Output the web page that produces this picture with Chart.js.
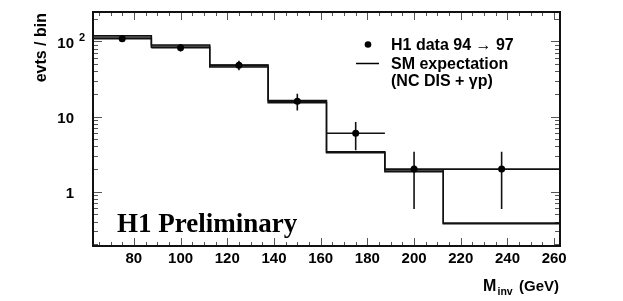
<!DOCTYPE html>
<html>
<head>
<meta charset="utf-8">
<script src="https://cdn.jsdelivr.net/npm/chart.js@4.4.0/dist/chart.umd.min.js"></script>
<style>
body { margin: 0; background: #fff; }
#wrap { width: 623px; height: 301px; }
</style>
</head>
<body>
<div id="wrap"><canvas id="myChart" width="623" height="301"></canvas></div>
<script>
// histogram bins (GeV) and values
const binEdges = [62.5, 87.5, 112.5, 137.5, 162.5, 187.5, 212.5, 262.5];
const dataX = [75, 100, 125, 150, 175, 200, 237.5];
const dataY = [108, 82, 48, 16, 6, 2, 2];
const dataYErr = [10.4, 9, 6.9, 4, 2.45, 1.41, 1.41];
const dataXErr = [12.5, 12.5, 12.5, 12.5, 12.5, 12.5, 25];
const mcUpper = [118, 89, 48.5, 16.3, 3.4, 1.96, 0.385];
const mcLower = [110, 83, 45.5, 15.2, 3.3, 1.84, 0.375];

const xMajorTicks = [80, 100, 120, 140, 160, 180, 200, 220, 240, 260];
const yMajorTicks = [1, 10, 100];
const yTickBase = ['1', '10', '10'];
const yTickExp = ['', '', '2'];

const xMin = 62.5, xMax = 262.5;
const yMin = 0.19, yMax = 245;

const SANS = '"Liberation Sans", "DejaVu Sans", sans-serif';

function stepPoints(vals) {
    const pts = vals.map((v, i) => ({ x: binEdges[i], y: v }));
    pts.push({ x: binEdges[binEdges.length - 1], y: vals[vals.length - 1] });
    return pts;
}

function errorSegments() {
    const pts = [];
    dataX.forEach((x, i) => {
        pts.push({ x: x, y: dataY[i] - dataYErr[i] }, { x: x, y: dataY[i] + dataYErr[i] }, { x: x, y: null });
        pts.push({ x: x - dataXErr[i], y: dataY[i] }, { x: x + dataXErr[i], y: dataY[i] }, { x: x, y: null });
    });
    return pts;
}

function minorX() {
    const t = [];
    for (let v = 65; v <= 260; v += 5) if (xMajorTicks.indexOf(v) < 0) t.push(v);
    return t;
}

function minorY() {
    const t = [];
    [0.1, 1, 10, 100].forEach(d => {
        for (let k = 2; k <= 9; k++) {
            const v = k * d;
            if (v > yMin && v < yMax) t.push(v);
        }
    });
    return t;
}

const framePlugin = {
    id: 'frame',
    beforeDatasetsDraw(chart) {
        const ctx = chart.ctx;
        const a = chart.chartArea;
        const xs = chart.scales.x, ys = chart.scales.y;
        ctx.save();
        ctx.strokeStyle = '#555';
        ctx.lineWidth = 1;
        ctx.beginPath();
        const xt = (v, len) => {
            const px = Math.round(xs.getPixelForValue(v)) + 0.5;
            ctx.moveTo(px, a.bottom); ctx.lineTo(px, a.bottom - len);
            ctx.moveTo(px, a.top); ctx.lineTo(px, a.top + len);
        };
        const yt = (v, len) => {
            const py = Math.round(ys.getPixelForValue(v)) + 0.5;
            ctx.moveTo(a.left, py); ctx.lineTo(a.left + len, py);
            ctx.moveTo(a.right, py); ctx.lineTo(a.right - len, py);
        };
        xMajorTicks.forEach(v => xt(v, 8));
        minorX().forEach(v => xt(v, 4));
        yMajorTicks.forEach(v => yt(v, 9));
        minorY().forEach(v => yt(v, 5));
        ctx.stroke();
        ctx.restore();
    },
    afterDraw(chart) {
        const ctx = chart.ctx;
        const a = chart.chartArea;
        const xs = chart.scales.x, ys = chart.scales.y;
        ctx.save();
        ctx.strokeStyle = '#111';
        ctx.lineWidth = 2;
        ctx.strokeRect(a.left, a.top, a.right - a.left, a.bottom - a.top);

        ctx.fillStyle = '#000';
        ctx.font = 'bold 15px ' + SANS;
        ctx.textAlign = 'center';
        ctx.textBaseline = 'alphabetic';
        xMajorTicks.forEach(v => ctx.fillText(String(v), xs.getPixelForValue(v), 263));

        yMajorTicks.forEach((v, i) => {
            const py = ys.getPixelForValue(v);
            ctx.font = 'bold 15px ' + SANS;
            ctx.textAlign = 'right';
            ctx.fillText(yTickBase[i], 74, py + 6.5);
            if (yTickExp[i]) {
                ctx.font = 'bold 11px ' + SANS;
                ctx.textAlign = 'left';
                ctx.fillText(yTickExp[i], 79, py - 0.5);
            }
        });

        // axis titles
        ctx.save();
        ctx.translate(45.5, 13);
        ctx.rotate(-Math.PI / 2);
        ctx.font = 'bold 16px ' + SANS;
        ctx.textAlign = 'right';
        ctx.fillText('evts / bin', 0, 0);
        ctx.restore();

        ctx.textAlign = 'left';
        ctx.font = 'bold 16px ' + SANS;
        ctx.fillText('M', 483, 290.5);
        ctx.font = 'bold 10.5px ' + SANS;
        ctx.fillText('inv', 497.5, 295);
        ctx.font = 'bold 15px ' + SANS;
        ctx.fillText('(GeV)', 519, 290.5);

        // legend
        ctx.beginPath();
        ctx.arc(368, 44.5, 3.3, 0, Math.PI * 2);
        ctx.fill();
        ctx.strokeStyle = '#000';
        ctx.lineWidth = 1.5;
        ctx.beginPath();
        ctx.moveTo(356, 63.5); ctx.lineTo(379, 63.5);
        ctx.stroke();
        ctx.font = 'bold 16px ' + SANS;
        ctx.fillText('H1 data 94 \u2192 97', 391, 50);
        ctx.fillText('SM expectation', 391, 68.5);
        ctx.fillText('(NC DIS + \u03b3p)', 391, 86);

        ctx.font = 'bold 27px "Liberation Serif", "DejaVu Serif", serif';
        ctx.fillText('H1 Preliminary', 117, 231.5);
        ctx.restore();
    }
};

const ctx = document.getElementById('myChart').getContext('2d');
const chart = new Chart(ctx, {
    type: 'line',
    data: {
        datasets: [
            {
                data: stepPoints(mcUpper),
                order: 3,
                stepped: 'before',
                borderColor: '#111',
                borderWidth: 1.5,
                pointRadius: 0,
                fill: '+1',
                backgroundColor: '#7a7a7a'
            },
            {
                data: stepPoints(mcLower),
                order: 2,
                stepped: 'before',
                borderColor: '#111',
                borderWidth: 1.5,
                pointRadius: 0,
                fill: false
            },
            {
                data: errorSegments(),
                order: 1,
                borderColor: '#111',
                borderWidth: 1.6,
                pointRadius: 0,
                spanGaps: false,
                fill: false
            },
            {
                data: dataX.map((x, i) => ({ x: x, y: dataY[i] })),
                order: 0,
                showLine: false,
                pointRadius: 3.5,
                pointBackgroundColor: '#000',
                pointBorderWidth: 0
            }
        ]
    },
    options: {
        responsive: false,
        animation: false,
        layout: { padding: { left: 93, right: 63, top: 12, bottom: 55 } },
        scales: {
            x: { type: 'linear', min: xMin, max: xMax, display: false },
            y: { type: 'logarithmic', min: yMin, max: yMax, display: false }
        },
        plugins: {
            legend: { display: false },
            tooltip: { enabled: false }
        }
    },
    plugins: [framePlugin]
});
</script>
</body>
</html>
